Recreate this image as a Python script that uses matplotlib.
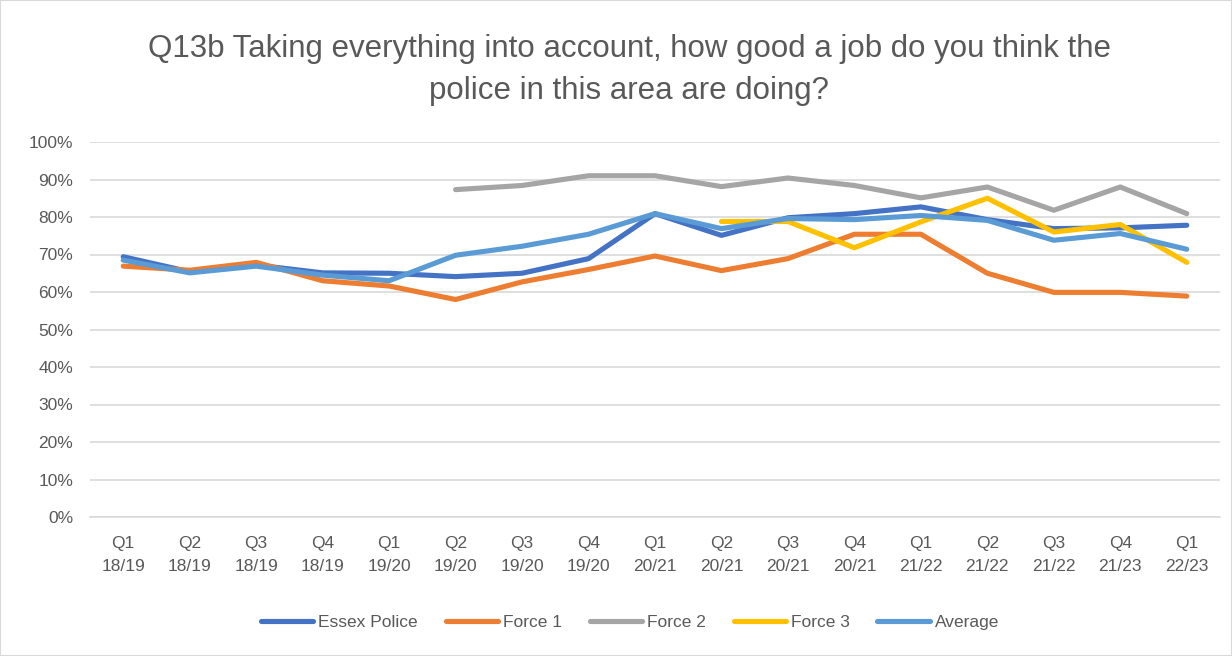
import numpy as np
import matplotlib.pyplot as plt

# Trimestres (eixo x)
trimestres = ["Q1\n18/19", "Q2\n18/19", "Q3\n18/19", "Q4\n18/19", "Q1\n19/20", "Q2\n19/20",
              "Q3\n19/20", "Q4\n19/20", "Q1\n20/21", "Q2\n20/21", "Q3\n20/21", "Q4\n20/21",
              "Q1\n21/22", "Q2\n21/22", "Q3\n21/22", "Q4\n21/23", "Q1\n22/23"]

nan = np.nan
essex = [69.4, 65.4, 67.2, 65.1, 65.0, 64.1, 65.0, 68.9, 80.9, 75.1, 79.8, 80.9, 82.7, 79.3, 76.9, 77.1, 77.8]
force1 = [66.9, 65.8, 67.9, 63.0, 61.6, 58.0, 62.7, 66.0, 69.6, 65.7, 68.9, 75.4, 75.4, 65.0, 59.9, 59.9, 58.9]
force2 = [nan, nan, nan, nan, nan, 87.3, 88.4, 91.0, 91.0, 88.1, 90.4, 88.4, 85.1, 88.0, 81.8, 88.0, 80.9]
force3 = [nan, nan, nan, nan, nan, nan, nan, nan, nan, 78.8, 78.8, 71.8, 78.7, 85.0, 76.0, 78.0, 67.9]
media = [68.5, 65.1, 66.9, 64.5, 63.0, 69.8, 72.2, 75.4, 80.9, 76.9, 79.6, 79.3, 80.4, 79.1, 73.8, 75.6, 71.4]

series = [("Essex Police", essex, "#4472C4"),
          ("Force 1", force1, "#ED7D31"),
          ("Force 2", force2, "#A5A5A5"),
          ("Force 3", force3, "#FFC000"),
          ("Average", media, "#5B9BD5")]

plt.rcParams['font.family'] = ['Liberation Sans Narrow', 'Liberation Sans', 'DejaVu Sans']
cinza = "#595959"

fig = plt.figure(figsize=(12.32, 6.56), dpi=100)
ax = fig.add_axes([90 / 1232, 1 - 517 / 656, 1130 / 1232, 375 / 656])

x = np.arange(len(trimestres))
for nome, valores, cor in series:
    ax.plot(x, np.array(valores) / 100, color=cor, linewidth=3.7, label=nome,
            solid_capstyle='round', solid_joinstyle='round')

ax.set_xlim(-0.5, len(trimestres) - 0.5)
ax.set_ylim(0, 1)
ax.set_yticks(np.arange(0, 1.01, 0.1))
ax.set_yticklabels([f"{int(v)}%" for v in np.arange(0, 101, 10)], color=cinza, fontsize=12.5)
ax.set_xticks(x)
ax.set_xticklabels(trimestres, color=cinza, fontsize=12.5, linespacing=1.6)
ax.tick_params(length=0, pad=12)
ax.tick_params(axis='x', pad=14)

ax.grid(axis='y', color="#D9D9D9", linewidth=1.2)
ax.set_axisbelow(True)
for lado in ['top', 'right', 'left']:
    ax.spines[lado].set_visible(False)
ax.spines['bottom'].set_color("#D9D9D9")
ax.spines['bottom'].set_linewidth(1.2)

fig.text(629 / 1232, 1 - 70 / 656,
         "Q13b Taking everything into account, how good a job do you think the\npolice in this area are doing?",
         ha='center', va='center', fontsize=22.5, color=cinza, linespacing=1.55)

fig.legend(loc='center', bbox_to_anchor=(630 / 1232, 1 - 622 / 656), ncol=5, frameon=False,
           fontsize=12.5, handlelength=3.0, handletextpad=0.3, columnspacing=1.6, labelcolor=cinza)

# Moldura cinza em volta do gráfico
fig.patches.append(plt.Rectangle((0, 0), 1, 1, transform=fig.transFigure, fill=False,
                                 edgecolor="#D9D9D9", linewidth=1.5))

plt.savefig('out.png', dpi=100)
